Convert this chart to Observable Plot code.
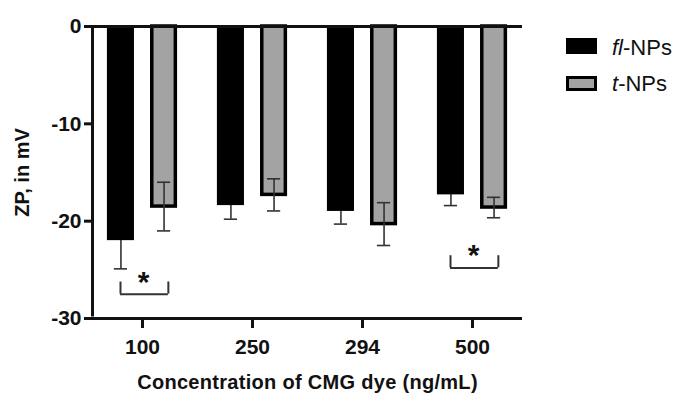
<!DOCTYPE html>
<html>
<head>
<meta charset="utf-8">
<script src="https://cdn.jsdelivr.net/npm/d3@7"></script>
<script src="https://cdn.jsdelivr.net/npm/@observablehq/plot@0.6"></script>
<style>
  body { margin: 0; background: #fff; }
  #wrap { position: relative; width: 692px; height: 407px; font-family: "Liberation Sans", Arial, sans-serif; }
  .sw { position: absolute; box-sizing: border-box; }
  .lt { position: absolute; font-size: 22px; line-height: 22px; color: #111; white-space: nowrap; }
</style>
</head>
<body>
<div id="wrap"></div>
<script>
// ---- data ----
const categories = ["100", "250", "294", "500"];
const seriesNames = ["fl-NPs", "t-NPs"];
const flMean = [-22.0, -18.4, -19.0, -17.3];
const flErr  = [2.9, 1.4, 1.3, 1.1];
const tMean  = [-18.5, -17.3, -20.3, -18.6];
const tErr   = [2.5, 1.65, 2.2, 1.05];
const yTicks = [0, -10, -20, -30];
const sigCategories = ["100", "500"];
const sigLevels = [-27.5, -24.8];

// ---- layout constants ----
const OFF = 0.196, HALF = 0.123, CAP = 0.06, PAD = 0.4545;
const BR_L = 0.2, BR_R = 0.235, BR_H = 1.25;

const flRows = categories.map((c, i) => ({i, s: "fl", mean: flMean[i], err: flErr[i]}));
const tRows = categories.map((c, i) => ({i, s: "t", mean: tMean[i], err: tErr[i]}));
const rows = flRows.concat(tRows);
const xc = d => d.i + (d.s === "fl" ? -OFF : OFF);
const sig = sigCategories.map((c, k) => ({i: categories.indexOf(c), level: sigLevels[k]}));

const plot = Plot.plot({
  width: 692,
  height: 407,
  marginLeft: 92,
  marginRight: 170,
  marginTop: 26,
  marginBottom: 89,
  style: {fontFamily: '"Liberation Sans", Arial, sans-serif', background: "#fff", overflow: "visible"},
  x: {type: "linear", domain: [-PAD, categories.length - 1 + PAD], axis: null},
  y: {domain: [-30, 0], axis: null},
  marks: [
    // gray bars (t-NPs)
    Plot.rectY(tRows, {x1: d => xc(d) - HALF, x2: d => xc(d) + HALF, y1: 0, y2: "mean",
      fill: "#a3a3a3", stroke: "#000", strokeWidth: 3.5, insetLeft: 1.75, insetRight: 1.75}),
    // error bars
    Plot.ruleX(rows, {x: xc, y1: d => d.mean - d.err, y2: d => d.mean + d.err, stroke: "#333", strokeWidth: 1.6}),
    Plot.ruleY(rows, {y: d => d.mean - d.err, x1: d => xc(d) - CAP, x2: d => xc(d) + CAP, stroke: "#333", strokeWidth: 1.6}),
    Plot.ruleY(tRows, {y: d => d.mean + d.err, x1: d => xc(d) - CAP, x2: d => xc(d) + CAP, stroke: "#333", strokeWidth: 1.6}),
    // black bars (fl-NPs)
    Plot.rectY(flRows, {x1: d => xc(d) - HALF, x2: d => xc(d) + HALF, y1: 0, y2: "mean", fill: "#000"}),
    // significance brackets
    Plot.ruleY(sig, {y: "level", x1: d => d.i - BR_L, x2: d => d.i + BR_R, stroke: "#333", strokeWidth: 2}),
    Plot.ruleX(sig, {x: d => d.i - BR_L, y1: "level", y2: d => d.level + BR_H, stroke: "#333", strokeWidth: 2}),
    Plot.ruleX(sig, {x: d => d.i + BR_R, y1: "level", y2: d => d.level + BR_H, stroke: "#333", strokeWidth: 2}),
    Plot.text(sig, {x: d => d.i + 0.01, y: d => d.level + BR_H, text: () => "*", fontSize: 30, fontWeight: "bold", fill: "#111"}),
    // zero line and axis lines
    Plot.ruleY([0], {stroke: "#111", strokeWidth: 3}),
    Plot.ruleY([-30], {stroke: "#111", strokeWidth: 3}),
    Plot.ruleX([-PAD], {stroke: "#111", strokeWidth: 3, y1: -30, y2: 0, insetTop: -1.5, insetBottom: -1.5}),
    // axes
    Plot.axisY({ticks: yTicks, tickSize: 8, tickPadding: 3, strokeWidth: 3, stroke: "#111",
      fontSize: 21, fontWeight: "bold", fill: "#111", label: null, tickFormat: d => String(d)}),
    Plot.axisX({ticks: categories.map((c, i) => i), tickFormat: i => categories[i], tickSize: 10, tickPadding: 11,
      strokeWidth: 3, stroke: "#111", fontSize: 21, fontWeight: "bold", fill: "#111", label: null}),
    // axis titles
    Plot.text(["Concentration of CMG dye (ng/mL)"], {frameAnchor: "bottom", dy: 64, text: d => d,
      fontSize: 20, fontWeight: "bold", fill: "#111", lineAnchor: "middle"}),
    Plot.text(["ZP, in mV"], {frameAnchor: "left", dx: -70, rotate: -90, text: d => d,
      fontSize: 20, fontWeight: "bold", fill: "#111", lineAnchor: "middle", textAnchor: "middle"})
  ]
});

const wrap = document.getElementById("wrap");
wrap.appendChild(plot);
// title letter-spacing
plot.querySelectorAll("text").forEach(t => {
  if (t.textContent === "Concentration of CMG dye (ng/mL)") t.setAttribute("letter-spacing", "0.3");
});

// legend
const legendItems = [
  {name: seriesNames[0], italic: "fl", rest: "-NPs", top: 38, h: 16, bg: "#000", border: "none", textTop: 37},
  {name: seriesNames[1], italic: "t", rest: "-NPs", top: 76, h: 15, bg: "#a3a3a3", border: "3px solid #000", textTop: 73}
];
legendItems.forEach(it => {
  const sw = document.createElement("div");
  sw.className = "sw";
  Object.assign(sw.style, {left: "566px", top: it.top + "px", width: "31px", height: it.h + "px", background: it.bg, border: it.border});
  wrap.appendChild(sw);
  const lt = document.createElement("div");
  lt.className = "lt";
  lt.style.left = "612px";
  lt.style.top = it.textTop + "px";
  const em = document.createElement("i");
  em.textContent = it.italic;
  lt.appendChild(em);
  lt.appendChild(document.createTextNode(it.rest));
  wrap.appendChild(lt);
});
</script>
</body>
</html>
